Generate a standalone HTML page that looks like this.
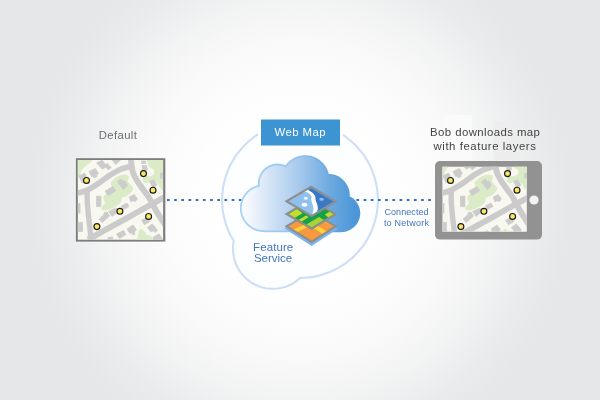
<!DOCTYPE html>
<html lang="en">
<head>
<meta charset="utf-8">
<title>Web Map – Feature Service</title>
<style>
html,body{margin:0;padding:0;}
body{width:600px;height:400px;overflow:hidden;background:#e6e7e8;font-family:"Liberation Sans",sans-serif;}
#stage{position:relative;width:600px;height:400px;overflow:hidden;
  background:radial-gradient(circle 285px at 300px 200px,#ffffff 0.0%,#ffffff 21.1%,#fefefe 35.1%,#fbfbfc 49.1%,#f9f9f9 56.1%,#f6f6f6 63.2%,#f2f3f3 70.2%,#eeeff0 77.2%,#eaebec 84.2%,#e8e9ea 89.5%,#e6e7e8 94.7%,#e6e7e8 100.0%);}
svg{position:absolute;left:0;top:0;display:block;will-change:transform;}
text{font-family:"Liberation Sans",sans-serif;}
</style>
</head>
<body>
<div id="stage">
<svg width="600" height="400" viewBox="0 0 600 400">
<defs>
  <linearGradient id="cloudGrad" gradientUnits="userSpaceOnUse" x1="241" y1="0" x2="360" y2="0">
    <stop offset="0" stop-color="#fcfdff"/>
    <stop offset="0.1" stop-color="#eef4fc"/>
    <stop offset="0.3" stop-color="#c9ddf4"/>
    <stop offset="0.5" stop-color="#a4c8ec"/>
    <stop offset="0.75" stop-color="#6ca9e0"/>
    <stop offset="1" stop-color="#4693d6"/>
  </linearGradient>
  <linearGradient id="cloudStroke" gradientUnits="userSpaceOnUse" x1="241" y1="0" x2="360" y2="0">
    <stop offset="0" stop-color="#a8d2f3"/>
    <stop offset="0.45" stop-color="#96c6ef"/>
    <stop offset="0.8" stop-color="#5fa2dd"/>
    <stop offset="1" stop-color="#4c96d7"/>
  </linearGradient>
  <clipPath id="clipLeft"><rect x="77.8" y="160.05" width="85.3" height="79.6"/></clipPath>
  <clipPath id="clipTab"><rect x="78.4" y="166.7" width="84.4" height="65"/></clipPath>
</defs>

<!-- outer bubble -->
<path d="M377.9 198.7 L377.8 196.2 L377.6 193.6 L377.4 191.1 L377.1 188.6 L376.6 186.1 L376.1 183.6 L375.6 181.1 L374.9 178.6 L374.2 176.2 L373.3 173.8 L372.0 170.2 L371.0 167.9 L369.9 165.5 L368.7 163.3 L367.5 161.1 L366.2 158.9 L364.8 156.7 L362.6 153.6 L361.0 151.6 L359.4 149.6 L357.7 147.7 L356.0 145.8 L354.2 144.0 L352.3 142.3 L350.4 140.6 L348.4 139.0 L345.4 136.7 L343.3 135.2 L341.1 133.8 L337.8 131.9 L335.6 130.7 L333.3 129.6 L331.0 128.5 L328.6 127.6 L326.2 126.7 L323.8 125.8 L321.4 125.1 L318.9 124.4 L316.4 123.9 L313.9 123.4 L311.4 122.9 L308.9 122.6 L306.4 122.4 L303.8 122.2 L301.3 122.1 L298.7 122.1 L296.2 122.2 L293.6 122.4 L289.8 122.8 L287.3 123.1 L284.8 123.6 L282.3 124.1 L279.8 124.8 L277.4 125.5 L275.0 126.2 L271.4 127.6 L269.0 128.5 L266.7 129.6 L263.3 131.3 L261.1 132.5 L258.9 133.8 L256.7 135.2 L254.6 136.7 L251.6 139.0 L249.6 140.6 L247.7 142.3 L244.9 144.9 L242.3 147.7 L240.6 149.6 L239.0 151.6 L236.7 154.6 L235.2 156.7 L233.8 158.9 L231.9 162.2 L230.7 164.4 L229.6 166.7 L228.0 170.2 L227.1 172.6 L226.2 175.0 L225.5 177.4 L224.8 179.8 L223.9 183.6 L223.1 187.3 L222.8 189.8 L222.4 193.6 L222.1 197.5 L222.1 201.3 L222.3 205.1 L222.6 208.9 L223.1 212.7 L223.9 216.4 L224.8 220.2 L225.8 223.8 L227.1 227.4 L228.5 231.0 L230.1 234.5 L231.9 237.8 L233.8 241.0 L233.3 243.7 L233.0 246.9 L233.0 250.2 L233.3 253.5 L233.8 256.7 L234.5 259.9 L235.6 263.0 L236.8 266.0 L238.0 268.3 L239.4 270.5 L240.9 272.7 L242.5 274.7 L244.2 276.6 L246.1 278.5 L248.6 280.6 L250.7 282.1 L252.9 283.5 L255.3 284.7 L257.6 285.8 L260.1 286.7 L262.6 287.4 L265.8 288.2 L268.3 288.5 L270.9 288.8 L274.2 288.8 L277.5 288.5 L280.7 288.0 L283.9 287.3 L285.7 286.7 L288.2 285.8 L290.5 284.7 L292.8 283.5 L294.5 282.4 L296.7 280.9 L298.7 279.3 L300.3 277.9 L305.1 277.7 L308.9 277.4 L312.7 276.9 L315.2 276.4 L317.7 275.9 L320.2 275.2 L322.6 274.5 L326.2 273.3 L329.8 272.0 L333.3 270.4 L335.6 269.3 L337.8 268.1 L341.1 266.2 L343.3 264.8 L345.4 263.3 L347.4 261.8 L349.4 260.2 L351.4 258.6 L353.3 256.9 L355.1 255.1 L356.9 253.3 L359.4 250.4 L361.0 248.4 L362.6 246.4 L364.8 243.3 L366.2 241.1 L367.5 239.0 L368.7 236.7 L370.4 233.3 L371.5 231.0 L372.4 228.6 L373.8 225.0 L374.5 222.6 L375.2 220.2 L375.9 217.7 L376.4 215.2 L376.9 212.7 L377.2 210.2 L377.5 207.6 L377.8 203.8 L377.9 201.3 Z" fill="#fdfeff" stroke="#cddff4" stroke-width="2.1" stroke-linejoin="round"/>

<!-- dotted connectors -->
<g stroke="#3070bd" stroke-width="2" stroke-dasharray="2.7 4.49" fill="none">
  <path d="M166.95 200 H242"/>
  <path d="M356.4 200 H432"/>
</g>

<!-- cloud -->
<path d="M328.0 174.7 L327.3 172.1 L326.7 170.5 L326.0 168.9 L325.2 167.4 L324.2 166.0 L323.2 164.6 L322.1 163.3 L320.4 161.8 L319.1 160.7 L317.7 159.7 L316.2 158.9 L314.6 158.1 L313.0 157.5 L311.4 156.9 L309.7 156.5 L308.1 156.3 L306.9 156.2 L305.2 156.1 L303.5 156.2 L301.8 156.4 L300.1 156.7 L298.4 157.1 L296.8 157.7 L295.2 158.3 L294.2 158.9 L292.7 159.7 L291.3 160.7 L290.0 161.8 L288.7 162.9 L287.6 164.2 L286.5 165.5 L285.8 166.5 L283.8 165.6 L281.6 165.0 L279.3 164.6 L277.0 164.5 L274.8 164.7 L273.0 165.1 L270.8 165.8 L268.7 166.7 L267.5 167.4 L266.4 168.2 L265.3 169.0 L264.3 170.0 L263.3 171.0 L262.2 172.4 L261.5 173.6 L260.8 174.8 L260.2 176.0 L259.7 177.3 L259.4 178.7 L259.1 180.0 L258.9 181.4 L258.8 182.7 L258.8 184.1 L259.0 185.8 L256.5 186.5 L255.5 186.8 L253.9 187.5 L251.9 188.6 L251.0 189.2 L249.6 190.1 L247.9 191.6 L247.1 192.4 L246.0 193.7 L245.3 194.6 L244.4 195.9 L243.5 197.4 L243.0 198.4 L242.5 199.4 L242.0 201.0 L241.4 203.2 L241.0 204.8 L240.9 206.0 L240.8 207.6 L240.8 208.8 L240.9 210.4 L241.0 211.6 L241.5 213.8 L242.0 215.4 L242.3 216.4 L243.0 218.0 L243.5 219.0 L244.4 220.5 L245.3 221.8 L246.0 222.7 L247.1 224.0 L248.3 225.2 L249.6 226.3 L251.0 227.2 L251.9 227.8 L253.4 228.7 L254.9 229.4 L256.0 229.8 L257.6 230.3 L259.2 230.7 L260.9 230.9 L262.6 231.1 L264.2 231.1 L264.2 231.3 L341.4 231.3 L341.4 231.1 L343.6 231.0 L344.9 230.8 L346.2 230.5 L348.3 229.7 L349.8 229.0 L351.3 228.1 L352.4 227.3 L353.7 226.2 L354.7 225.2 L355.8 223.9 L356.5 222.8 L357.4 221.2 L358.1 219.6 L358.7 218.0 L359.0 216.3 L359.3 214.5 L359.3 213.2 L359.3 211.9 L359.0 210.1 L358.7 208.4 L358.1 206.8 L357.4 205.2 L356.5 203.6 L355.5 202.2 L354.4 200.9 L353.1 199.6 L351.7 198.6 L350.2 197.6 L348.9 196.9 L348.9 194.6 L348.7 192.5 L348.3 190.5 L347.7 188.6 L346.9 186.7 L345.9 184.9 L344.8 183.1 L343.5 181.6 L342.4 180.5 L340.9 179.1 L339.2 177.9 L337.4 176.9 L335.0 175.9 L333.1 175.3 L330.6 174.9 Z" fill="url(#cloudGrad)" stroke="url(#cloudStroke)" stroke-width="1.8" stroke-linejoin="round"/>

<!-- layer stack -->
<g>
  <clipPath id="cTop"><path d="M288.6 201.2 L311.1 187.9 L333.5 201.5 L311.6 214.7 Z"/></clipPath>
  <clipPath id="cMid"><path d="M288.6 213.9 L311.1 200.6 L333.5 214.2 L311.6 227.4 Z"/></clipPath>
  <clipPath id="cBot"><path d="M288.6 226.3 L311.1 213 L333.5 226.6 L311.6 240.6 Z"/></clipPath>
  <!-- shadow -->
  <path d="M284.5 228.6 L311.1 213 L337.5 229 L311.6 246 Z" fill="#7db5ea"/>
  <!-- bottom layer -->
  <path d="M284.5 226.3 L311.1 210.6 L337.5 226.6 L311.6 243.2 Z" fill="#8e8e8e"/>
  <g clip-path="url(#cBot)">
    <rect x="284" y="210" width="54" height="34" fill="#f7993c"/>
    <path d="M293.5 229.5 L304.5 224.5 L308.5 226.6 L297.5 232 Z" fill="#fcd33c"/>
    <path d="M317 225.5 Q322.5 228.2 327.5 232.5 L323.5 235 Q319 230.8 313.5 228 Z" fill="#fcd33c"/>
    <path d="M323 222.5 Q329 224 334 228 L336 224 Q330 221 325 220.5 Z" fill="#f9a94a"/>
  </g>
  <!-- middle layer -->
  <path d="M284.5 213.9 L311.1 198.2 L337.5 214.2 L311.6 229.9 Z" fill="#8e8e8e"/>
  <g clip-path="url(#cMid)">
    <rect x="284" y="198" width="54" height="34" fill="#16a04a"/>
    <path d="M288 214 L297 209 L302.6 213.2 L294.5 217.9 Z" fill="#c6da31"/>
    <path d="M298.3 220.1 L306 215.4 L308.7 217 L301.4 221.8 Z" fill="#c6da31"/>
    <path d="M306.3 224.6 L319 217 L324.2 220 L311.8 227.8 Z" fill="#a8d13a"/>
    <path d="M324.8 214.6 L330 211.4 L335.5 214.6 L329.2 218.2 Z" fill="#c6da31"/>
  </g>
  <!-- top layer -->
  <path d="M284.5 201.2 L311.1 185.5 L337.5 201.5 L311.6 217.2 Z" fill="#8e8e8e"/>
  <g clip-path="url(#cTop)">
    <rect x="284" y="185" width="54" height="34" fill="#8fc1ec"/>
    <path d="M306.0 190.9 C306.2 190.8 306.5 189.8 307.5 190.0 C308.5 190.2 310.8 191.4 312.0 192.4 C313.2 193.4 314.4 194.7 315.0 196.0 C315.6 197.3 315.2 198.7 315.5 200.0 C315.8 201.3 316.6 202.6 317.0 204.0 C317.4 205.4 317.8 207.4 317.8 208.6 C317.8 209.8 317.3 210.5 317.0 211.2 C316.7 211.9 316.3 212.7 316.2 213.0 L340 205 L340 185 L311 185 Z" fill="#3a78c6"/>
    <path d="M303.0 192.6 C303.2 192.5 303.5 191.7 304.5 191.8 C305.5 191.9 307.9 192.6 309.0 193.4 C310.1 194.2 311.0 195.3 311.4 196.4 C311.8 197.5 311.0 198.7 311.2 200.0 C311.4 201.3 312.0 202.5 312.4 204.0 C312.8 205.5 313.4 207.3 313.4 208.8 C313.4 210.3 312.8 212.1 312.6 213.2 C312.4 214.3 312.1 215.1 312.0 215.5 L316.2 213.0 C316.3 212.7 316.7 211.9 317.0 211.2 C317.3 210.5 317.8 209.8 317.8 208.6 C317.8 207.4 317.4 205.4 317.0 204.0 C316.6 202.6 315.8 201.3 315.5 200.0 C315.2 198.7 315.6 197.3 315.0 196.0 C314.4 194.7 313.2 193.4 312.0 192.4 C310.8 191.4 308.5 190.2 307.5 190.0 C306.5 189.8 306.2 190.8 306.0 190.9 Z" fill="#ffffff"/>
    <ellipse cx="305.8" cy="198.3" rx="1.9" ry="1.35" fill="#ffffff"/>
    <ellipse cx="304.5" cy="204.8" rx="2.8" ry="1.95" fill="#ffffff"/>
    <ellipse cx="321.5" cy="199.3" rx="2.3" ry="1.55" fill="#8fc1ec"/>
  </g>
</g>


<!-- Web Map label box -->
<rect x="261" y="119.5" width="79" height="26" fill="#3d94d3" stroke="#ffffff" stroke-width="6"/>
<rect x="261" y="119.5" width="79" height="26" fill="#3d94d3"/>
<text x="300.3" y="136.4" font-size="11.4" letter-spacing="0.45" fill="#ffffff" text-anchor="middle">Web Map</text>

<!-- Feature Service -->
<text x="273.2" y="250.5" font-size="11.5" letter-spacing="0.1" fill="#4275be" text-anchor="middle">Feature</text>
<text x="273.1" y="262.4" font-size="11.5" fill="#4275be" text-anchor="middle">Service</text>

<!-- Connected to Network -->
<text x="406.6" y="215" font-size="9" letter-spacing="0.08" fill="#4275be" text-anchor="middle">Connected</text>
<text x="406.6" y="225.8" font-size="9" letter-spacing="0.24" fill="#4275be" text-anchor="middle">to Network</text>

<!-- Default label -->
<text x="118" y="138.9" font-size="11.3" letter-spacing="0.38" fill="#6d6e71" text-anchor="middle">Default</text>

<!-- left map -->
<rect x="75.9" y="158.2" width="89.4" height="83.4" fill="#7c7c7c"/>
<g clip-path="url(#clipLeft)">
  <g>
    <rect x="70" y="150" width="100" height="100" fill="#f9f8f0"/>
    <g fill="#dbeac7">
      <path d="M75.0 157.0 C78.0 153.4 90.3 156.2 93.0 157.0 C95.7 157.8 92.0 160.7 91.0 162.0 C90.0 163.3 88.3 163.9 87.0 165.0 C85.7 166.1 84.1 167.2 83.0 168.5 C81.9 169.8 81.2 171.5 80.5 173.0 C79.8 174.5 79.9 176.6 79.0 177.5 C78.1 178.4 75.7 181.9 75.0 178.5 C74.3 175.1 72.0 160.6 75.0 157.0 Z"/>
      <path d="M103.4 196.4 C103.9 195.4 105.7 195.0 107.0 193.5 C108.3 192.0 110.9 189.3 111.5 187.5 C112.1 185.7 110.3 183.8 110.7 182.4 C111.1 181.0 113.0 180.2 114.1 179.2 C115.2 178.2 116.2 177.2 117.5 176.5 C118.8 175.8 120.4 175.1 122.0 174.8 C123.6 174.6 126.0 174.5 127.2 175.0 C128.4 175.5 128.9 176.9 129.0 178.0 C129.1 179.1 127.5 180.2 127.8 181.4 C128.1 182.6 130.1 183.8 131.0 185.0 C131.9 186.2 133.2 187.3 133.2 188.6 C133.2 189.8 132.1 191.3 131.0 192.5 C129.9 193.7 128.1 195.0 126.5 195.9 C124.9 196.8 122.5 197.0 121.6 198.1 C120.7 199.2 122.1 200.9 121.0 202.3 C119.9 203.8 117.5 205.5 115.2 206.8 C112.9 208.1 109.6 209.5 107.4 210.0 C105.2 210.5 103.0 210.1 102.0 209.7 C101.0 209.3 100.7 208.5 101.2 207.5 C101.7 206.5 104.4 204.8 104.8 203.5 C105.2 202.2 104.0 200.7 103.8 199.5 C103.6 198.3 102.9 197.4 103.4 196.4 Z"/>
      <path d="M148.0 159.0 C150.8 158.2 162.2 154.1 165.0 159.0 C167.8 163.9 165.8 183.7 165.0 188.5 C164.2 193.3 161.1 188.7 160.0 188.0 C158.9 187.3 159.2 185.5 158.5 184.5 C157.8 183.5 156.8 182.6 155.5 182.0 C154.2 181.4 152.4 180.8 151.0 181.0 C149.6 181.2 148.2 182.8 147.0 183.0 C145.8 183.2 144.2 182.8 143.5 182.0 C142.8 181.2 142.6 179.4 143.0 178.5 C143.4 177.6 144.7 176.9 146.0 176.5 C147.3 176.1 149.7 176.5 151.0 176.0 C152.3 175.5 153.6 174.6 154.0 173.5 C154.4 172.4 154.2 170.5 153.5 169.5 C152.8 168.5 150.9 168.4 150.0 167.5 C149.1 166.6 148.3 165.4 148.0 164.0 C147.7 162.6 145.2 159.8 148.0 159.0 Z"/>
      <path d="M137.5 242.0 C135.0 240.7 138.0 235.9 138.3 234.0 C138.6 232.1 138.9 231.4 139.3 230.5 C139.8 229.6 140.3 228.8 141.0 228.8 C141.7 228.8 142.6 229.7 143.6 230.6 C144.6 231.5 145.4 233.4 146.8 234.4 C148.2 235.4 150.7 235.5 151.8 236.8 C152.9 238.1 155.9 241.1 153.5 242.0 C151.1 242.9 140.0 243.3 137.5 242.0 Z"/>
    </g>
    <g fill="#cccccc" stroke="#cccccc" stroke-width="0.8" stroke-linejoin="miter">
      <path d="M79.0 176.0 L84.6 173.1 L87.7 179.0 L82.1 182.9 Z"/>
      <path d="M89.0 171.6 L95.3 168.4 L98.5 173.6 L96.5 174.8 L97.3 176.2 L94.2 178.0 L92.9 176.0 L91.6 176.7 Z"/>
      <path d="M96.6 162.8 L102.3 160.2 L105.3 164.6 L107.2 163.4 L111.2 167.7 L108.0 169.7 L106.0 167.2 L102.2 169.1 Z"/>
      <path d="M111.5 159.0 L120.5 159.0 L120.2 160.6 L115.6 164.5 Z"/>
      <path d="M105.2 190.9 L113.0 186.6 L115.6 191.0 L107.8 195.4 Z"/>
      <path d="M96.5 196.2 L100.9 196.2 L100.9 206.6 L96.5 206.6 Z"/>
      <path d="M77.0 203.4 L80.0 203.4 L80.0 213.1 L77.0 213.1 Z"/>
      <path d="M77.0 222.4 L82.5 222.4 L82.5 231.4 L77.0 231.4 Z"/>
      <path d="M99.0 219.0 L103.4 215.2 L104.5 212.6 L107.0 212.0 L109.6 216.0 L102.1 222.6 Z"/>
      <path d="M108.6 211.4 L116.0 208.0 L118.1 211.6 L112.1 216.4 Z"/>
      <path d="M117.5 181.5 L121.5 179.0 L123.5 181.5 L124.6 180.8 L127.6 185.6 L123.4 189.6 Z"/>
      <path d="M141.5 161.0 L145.5 161.0 L145.5 163.6 L141.5 163.6 Z"/>
      <path d="M142.0 165.5 L146.5 165.5 L147.5 170.0 L143.0 171.5 Z"/>
      <path d="M149.5 181.4 L153.5 179.8 L157.0 185.0 L153.0 188.0 Z"/>
      <path d="M160.5 173.4 L164.0 173.4 L164.0 178.1 L160.5 178.1 Z"/>
      <path d="M129.2 197.0 L134.2 194.5 L137.4 198.9 L135.5 201.4 L133.0 200.7 L131.0 202.0 Z"/>
      <path d="M121.2 206.0 L127.0 203.0 L129.0 206.5 L123.0 209.6 Z"/>
      <path d="M141.7 220.2 L146.7 217.6 L149.9 221.5 L144.3 224.8 Z"/>
      <path d="M147.4 227.6 L152.4 223.9 L157.4 230.1 L155.5 232.6 L153.0 230.8 L151.1 232.0 Z"/>
      <path d="M127.0 229.0 L133.0 225.0 L136.3 229.6 L134.2 232.4 L135.0 234.0 L133.0 235.0 L131.6 232.6 L130.0 233.6 Z"/>
      <path d="M116.5 234.0 L123.5 230.5 L126.0 234.5 L119.5 238.5 Z"/>
      <path d="M153.6 237.0 L159.2 233.9 L162.4 239.5 L162.4 241.0 L153.6 241.0 Z"/>
      <path d="M108.0 237.6 L112.5 236.9 L113.0 241.0 L108.0 241.0 Z"/>
    </g>
    <g fill="none" stroke="#cbcbcb" stroke-linejoin="round">
      <path stroke-width="5.7" d="M74.0 193.4 C75.0 193.3 77.9 193.1 80.0 192.6 C82.1 192.1 84.3 191.4 86.5 190.5 C88.7 189.6 90.8 188.3 93.0 186.9 C95.2 185.5 97.8 183.8 100.0 182.3 C102.2 180.8 104.0 179.4 106.0 178.0 C108.0 176.6 109.7 175.3 112.0 173.9 C114.3 172.5 117.7 170.6 120.0 169.5 C122.3 168.4 124.0 168.1 126.0 167.5 C128.0 166.9 131.0 166.2 132.0 166.0"/>
      <path stroke-width="5.9" d="M131.0 156.0 C131.0 157.0 131.0 159.7 131.2 162.0 C131.4 164.3 131.8 167.8 132.3 170.0 C132.8 172.2 133.3 173.3 134.0 175.0 C134.7 176.7 135.6 178.3 136.6 180.0 C137.6 181.7 138.8 183.3 140.0 185.0 C141.2 186.7 142.3 188.3 143.7 190.2 C145.1 192.1 146.9 194.3 148.3 196.5 C149.7 198.7 150.9 201.2 152.2 203.5 C153.5 205.8 154.7 208.2 156.0 210.5 C157.3 212.8 158.3 214.3 160.0 217.0 C161.7 219.7 165.0 224.9 166.0 226.5"/>
      <path stroke-width="5.4" d="M87.2 190.0 C87.2 192.0 87.1 197.5 87.3 202.0 C87.5 206.5 88.1 212.0 88.6 217.0 C89.1 222.0 89.9 227.7 90.3 232.0 C90.7 236.3 91.0 241.2 91.2 243.0"/>
      <path stroke-width="5.9" d="M88.0 239.5 C88.7 239.1 88.3 239.3 92.0 237.3 C95.7 235.3 103.7 230.8 110.0 227.3 C116.3 223.8 123.3 220.0 130.0 216.3 C136.7 212.6 143.8 208.6 150.0 205.2 C156.2 201.8 164.2 197.4 167.0 195.8"/>
    </g>
    <g fill="#f9e766" stroke="#1a1a1a" stroke-width="1.15">
      <circle cx="86.5" cy="180.4" r="2.95"/>
      <circle cx="143.5" cy="173.6" r="2.95"/>
      <circle cx="153.0" cy="190.2" r="2.95"/>
      <circle cx="119.9" cy="211.3" r="2.95"/>
      <circle cx="148.6" cy="216.4" r="2.95"/>
      <circle cx="96.9" cy="226.6" r="2.95"/>
    </g>
  </g>
</g>

<!-- tablet -->
<rect x="443.5" y="115" width="28.5" height="45" fill="#fafafa"/>
<rect x="493.5" y="121" width="27" height="39" fill="#ededee"/>
<text x="485.2" y="136.1" font-size="11.4" letter-spacing="0.42" fill="#444444" text-anchor="middle">Bob downloads map</text>
<text x="485" y="150.2" font-size="11.4" letter-spacing="0.55" fill="#444444" text-anchor="middle">with feature layers</text>
<rect x="435" y="161" width="107" height="78.6" rx="5" ry="5" fill="#929292"/>
<g transform="translate(364 0)"><g clip-path="url(#clipTab)">
  <g>
    <rect x="70" y="150" width="100" height="100" fill="#f9f8f0"/>
    <g fill="#dbeac7">
      <path d="M75.0 157.0 C78.0 153.4 90.3 156.2 93.0 157.0 C95.7 157.8 92.0 160.7 91.0 162.0 C90.0 163.3 88.3 163.9 87.0 165.0 C85.7 166.1 84.1 167.2 83.0 168.5 C81.9 169.8 81.2 171.5 80.5 173.0 C79.8 174.5 79.9 176.6 79.0 177.5 C78.1 178.4 75.7 181.9 75.0 178.5 C74.3 175.1 72.0 160.6 75.0 157.0 Z"/>
      <path d="M103.4 196.4 C103.9 195.4 105.7 195.0 107.0 193.5 C108.3 192.0 110.9 189.3 111.5 187.5 C112.1 185.7 110.3 183.8 110.7 182.4 C111.1 181.0 113.0 180.2 114.1 179.2 C115.2 178.2 116.2 177.2 117.5 176.5 C118.8 175.8 120.4 175.1 122.0 174.8 C123.6 174.6 126.0 174.5 127.2 175.0 C128.4 175.5 128.9 176.9 129.0 178.0 C129.1 179.1 127.5 180.2 127.8 181.4 C128.1 182.6 130.1 183.8 131.0 185.0 C131.9 186.2 133.2 187.3 133.2 188.6 C133.2 189.8 132.1 191.3 131.0 192.5 C129.9 193.7 128.1 195.0 126.5 195.9 C124.9 196.8 122.5 197.0 121.6 198.1 C120.7 199.2 122.1 200.9 121.0 202.3 C119.9 203.8 117.5 205.5 115.2 206.8 C112.9 208.1 109.6 209.5 107.4 210.0 C105.2 210.5 103.0 210.1 102.0 209.7 C101.0 209.3 100.7 208.5 101.2 207.5 C101.7 206.5 104.4 204.8 104.8 203.5 C105.2 202.2 104.0 200.7 103.8 199.5 C103.6 198.3 102.9 197.4 103.4 196.4 Z"/>
      <path d="M148.0 159.0 C150.8 158.2 162.2 154.1 165.0 159.0 C167.8 163.9 165.8 183.7 165.0 188.5 C164.2 193.3 161.1 188.7 160.0 188.0 C158.9 187.3 159.2 185.5 158.5 184.5 C157.8 183.5 156.8 182.6 155.5 182.0 C154.2 181.4 152.4 180.8 151.0 181.0 C149.6 181.2 148.2 182.8 147.0 183.0 C145.8 183.2 144.2 182.8 143.5 182.0 C142.8 181.2 142.6 179.4 143.0 178.5 C143.4 177.6 144.7 176.9 146.0 176.5 C147.3 176.1 149.7 176.5 151.0 176.0 C152.3 175.5 153.6 174.6 154.0 173.5 C154.4 172.4 154.2 170.5 153.5 169.5 C152.8 168.5 150.9 168.4 150.0 167.5 C149.1 166.6 148.3 165.4 148.0 164.0 C147.7 162.6 145.2 159.8 148.0 159.0 Z"/>
      <path d="M137.5 242.0 C135.0 240.7 138.0 235.9 138.3 234.0 C138.6 232.1 138.9 231.4 139.3 230.5 C139.8 229.6 140.3 228.8 141.0 228.8 C141.7 228.8 142.6 229.7 143.6 230.6 C144.6 231.5 145.4 233.4 146.8 234.4 C148.2 235.4 150.7 235.5 151.8 236.8 C152.9 238.1 155.9 241.1 153.5 242.0 C151.1 242.9 140.0 243.3 137.5 242.0 Z"/>
    </g>
    <g fill="#cccccc" stroke="#cccccc" stroke-width="0.8" stroke-linejoin="miter">
      <path d="M79.0 176.0 L84.6 173.1 L87.7 179.0 L82.1 182.9 Z"/>
      <path d="M89.0 171.6 L95.3 168.4 L98.5 173.6 L96.5 174.8 L97.3 176.2 L94.2 178.0 L92.9 176.0 L91.6 176.7 Z"/>
      <path d="M96.6 162.8 L102.3 160.2 L105.3 164.6 L107.2 163.4 L111.2 167.7 L108.0 169.7 L106.0 167.2 L102.2 169.1 Z"/>
      <path d="M111.5 159.0 L120.5 159.0 L120.2 160.6 L115.6 164.5 Z"/>
      <path d="M105.2 190.9 L113.0 186.6 L115.6 191.0 L107.8 195.4 Z"/>
      <path d="M96.5 196.2 L100.9 196.2 L100.9 206.6 L96.5 206.6 Z"/>
      <path d="M77.0 203.4 L80.0 203.4 L80.0 213.1 L77.0 213.1 Z"/>
      <path d="M77.0 222.4 L82.5 222.4 L82.5 231.4 L77.0 231.4 Z"/>
      <path d="M99.0 219.0 L103.4 215.2 L104.5 212.6 L107.0 212.0 L109.6 216.0 L102.1 222.6 Z"/>
      <path d="M108.6 211.4 L116.0 208.0 L118.1 211.6 L112.1 216.4 Z"/>
      <path d="M117.5 181.5 L121.5 179.0 L123.5 181.5 L124.6 180.8 L127.6 185.6 L123.4 189.6 Z"/>
      <path d="M141.5 161.0 L145.5 161.0 L145.5 163.6 L141.5 163.6 Z"/>
      <path d="M142.0 165.5 L146.5 165.5 L147.5 170.0 L143.0 171.5 Z"/>
      <path d="M149.5 181.4 L153.5 179.8 L157.0 185.0 L153.0 188.0 Z"/>
      <path d="M160.5 173.4 L164.0 173.4 L164.0 178.1 L160.5 178.1 Z"/>
      <path d="M129.2 197.0 L134.2 194.5 L137.4 198.9 L135.5 201.4 L133.0 200.7 L131.0 202.0 Z"/>
      <path d="M121.2 206.0 L127.0 203.0 L129.0 206.5 L123.0 209.6 Z"/>
      <path d="M141.7 220.2 L146.7 217.6 L149.9 221.5 L144.3 224.8 Z"/>
      <path d="M147.4 227.6 L152.4 223.9 L157.4 230.1 L155.5 232.6 L153.0 230.8 L151.1 232.0 Z"/>
      <path d="M127.0 229.0 L133.0 225.0 L136.3 229.6 L134.2 232.4 L135.0 234.0 L133.0 235.0 L131.6 232.6 L130.0 233.6 Z"/>
      <path d="M116.5 234.0 L123.5 230.5 L126.0 234.5 L119.5 238.5 Z"/>
      <path d="M153.6 237.0 L159.2 233.9 L162.4 239.5 L162.4 241.0 L153.6 241.0 Z"/>
      <path d="M108.0 237.6 L112.5 236.9 L113.0 241.0 L108.0 241.0 Z"/>
    </g>
    <g fill="none" stroke="#cbcbcb" stroke-linejoin="round">
      <path stroke-width="5.7" d="M74.0 193.4 C75.0 193.3 77.9 193.1 80.0 192.6 C82.1 192.1 84.3 191.4 86.5 190.5 C88.7 189.6 90.8 188.3 93.0 186.9 C95.2 185.5 97.8 183.8 100.0 182.3 C102.2 180.8 104.0 179.4 106.0 178.0 C108.0 176.6 109.7 175.3 112.0 173.9 C114.3 172.5 117.7 170.6 120.0 169.5 C122.3 168.4 124.0 168.1 126.0 167.5 C128.0 166.9 131.0 166.2 132.0 166.0"/>
      <path stroke-width="5.9" d="M131.0 156.0 C131.0 157.0 131.0 159.7 131.2 162.0 C131.4 164.3 131.8 167.8 132.3 170.0 C132.8 172.2 133.3 173.3 134.0 175.0 C134.7 176.7 135.6 178.3 136.6 180.0 C137.6 181.7 138.8 183.3 140.0 185.0 C141.2 186.7 142.3 188.3 143.7 190.2 C145.1 192.1 146.9 194.3 148.3 196.5 C149.7 198.7 150.9 201.2 152.2 203.5 C153.5 205.8 154.7 208.2 156.0 210.5 C157.3 212.8 158.3 214.3 160.0 217.0 C161.7 219.7 165.0 224.9 166.0 226.5"/>
      <path stroke-width="5.4" d="M87.2 190.0 C87.2 192.0 87.1 197.5 87.3 202.0 C87.5 206.5 88.1 212.0 88.6 217.0 C89.1 222.0 89.9 227.7 90.3 232.0 C90.7 236.3 91.0 241.2 91.2 243.0"/>
      <path stroke-width="5.9" d="M88.0 239.5 C88.7 239.1 88.3 239.3 92.0 237.3 C95.7 235.3 103.7 230.8 110.0 227.3 C116.3 223.8 123.3 220.0 130.0 216.3 C136.7 212.6 143.8 208.6 150.0 205.2 C156.2 201.8 164.2 197.4 167.0 195.8"/>
    </g>
    <g fill="#f9e766" stroke="#1a1a1a" stroke-width="1.15">
      <circle cx="86.5" cy="180.4" r="2.95"/>
      <circle cx="143.5" cy="173.6" r="2.95"/>
      <circle cx="153.0" cy="190.2" r="2.95"/>
      <circle cx="119.9" cy="211.3" r="2.95"/>
      <circle cx="148.6" cy="216.4" r="2.95"/>
      <circle cx="96.9" cy="226.6" r="2.95"/>
    </g>
  </g>
</g></g>
<circle cx="534" cy="200" r="4.6" fill="#f2f2f2"/>
</svg>
</div>
</body>
</html>
